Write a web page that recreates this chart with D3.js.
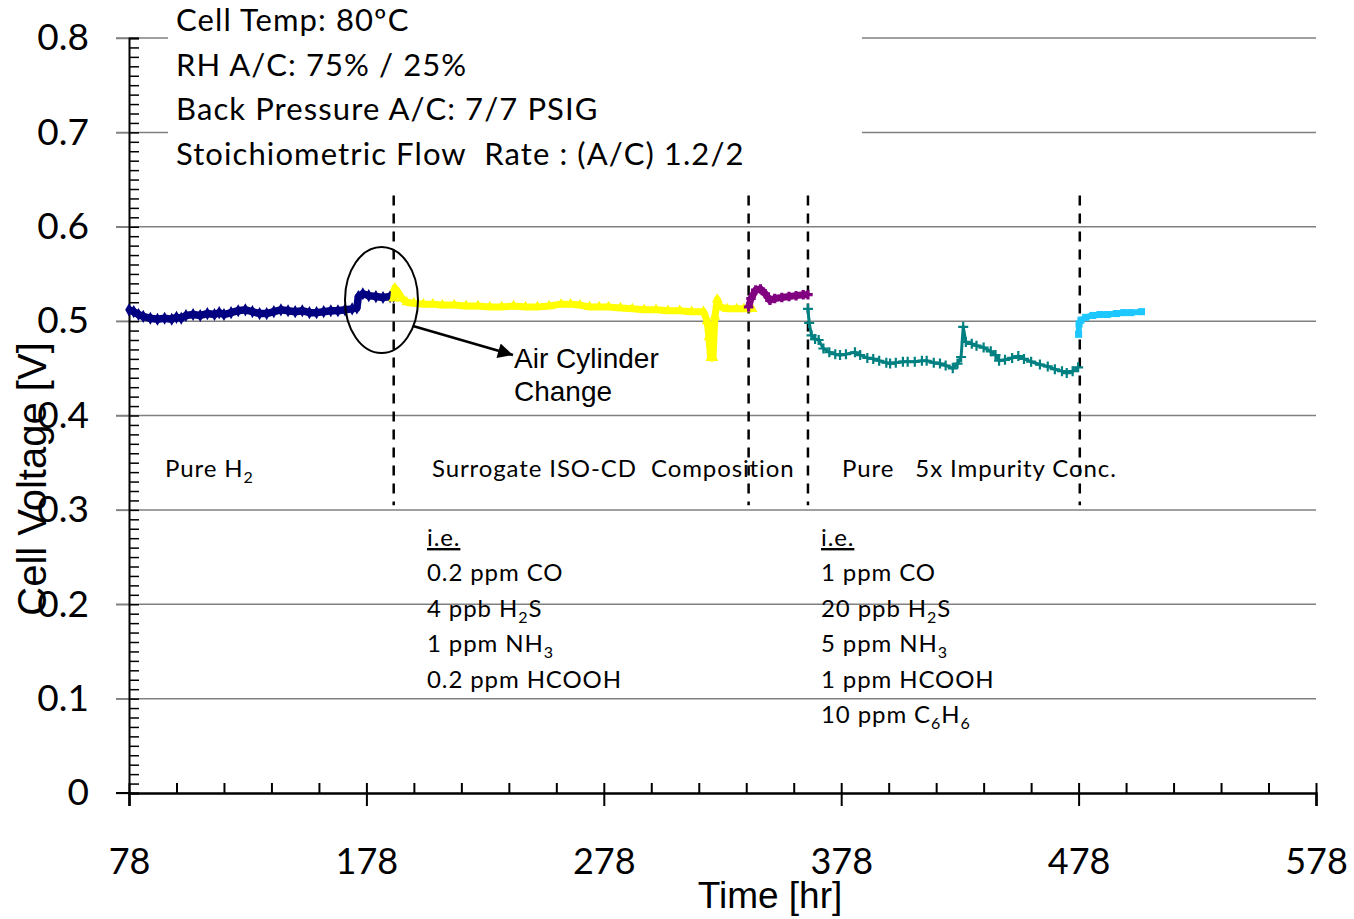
<!DOCTYPE html>
<html>
<head>
<meta charset="utf-8">
<script src="https://cdn.jsdelivr.net/npm/d3@7"></script>
<style>
  body { margin: 0; background: #fff; }
  svg { display: block; }
  text { white-space: pre; }
</style>
</head>
<body>
<div id="chart"></div>
<script>
// ---- data (hours, volts) ----
var pureH2 = [[78,0.512],[80,0.510],[82,0.507],[84,0.505],[87,0.503],[90,0.502],[93,0.503],[96,0.502],[98,0.504],[100,0.503],[102,0.506],[105,0.507],[108,0.506],[111,0.508],[114,0.507],[116,0.509],[118,0.507],[121,0.509],[124,0.511],[127,0.512],[130,0.510],[133,0.508],[136,0.508],[139,0.510],[142,0.512],[145,0.511],[148,0.510],[151,0.511],[154,0.509],[157,0.509],[160,0.510],[163,0.511],[166,0.511],[169,0.512],[172,0.513],[174,0.514],[174.6,0.526],[176.5,0.529],[179,0.527],[182,0.526],[185,0.525],[188,0.526],[189.5,0.526]];
var surrogate = [[189.5,0.524],[190,0.535],[191.5,0.530],[193,0.524],[195,0.520],[198,0.519],[202,0.518],[206,0.518],[210,0.517],[215,0.517],[220,0.516],[225,0.516],[230,0.515],[235,0.515],[240,0.516],[245,0.515],[250,0.515],[255,0.516],[260,0.518],[264,0.518],[268,0.517],[272,0.515],[276,0.515],[280,0.515],[285,0.514],[290,0.513],[295,0.512],[300,0.512],[305,0.511],[310,0.511],[315,0.510],[320,0.510],[321.5,0.500],[322.3,0.483],[323,0.461],[324,0.461],[324.8,0.505],[325.8,0.523],[327,0.515],[330,0.513],[334,0.513],[337,0.513],[340.5,0.513]];
var pureMid = [[339,0.515],[340,0.524],[342,0.533],[344,0.534],[346,0.529],[348,0.522],[350,0.524],[353,0.525],[356,0.526],[359,0.527],[362,0.528],[364,0.528]];
var impurity5x = [[364,0.513],[364.5,0.498],[365.5,0.485],[367,0.481],[368.5,0.480],[370.5,0.471],[373,0.467],[375.5,0.465],[377.5,0.464],[380,0.465],[383.8,0.467],[386,0.464],[389,0.461],[391.5,0.460],[394,0.458],[397,0.456],[398.6,0.455],[401,0.456],[404,0.457],[406,0.457],[409,0.457],[412,0.458],[414,0.458],[417,0.456],[419.6,0.455],[422,0.453],[425,0.450],[427,0.455],[428.5,0.462],[429.4,0.494],[430.5,0.478],[433,0.476],[435,0.474],[438,0.472],[441,0.468],[443,0.464],[444.5,0.458],[447,0.459],[450,0.461],[452.6,0.463],[455,0.460],[458,0.457],[461.7,0.454],[465,0.452],[468,0.449],[471,0.447],[473,0.445],[475.5,0.447],[477.8,0.451]];
var pureEnd = [[478,0.486],[478.2,0.497],[479,0.501],[481,0.504],[484,0.506],[487,0.507],[490,0.507],[494,0.508],[497,0.509],[500,0.509],[504.5,0.510]];

var phaseBreaks = [189.5, 339, 364, 478.5];
var xTicks = [78, 178, 278, 378, 478, 578];
var yTicks = [0, 0.1, 0.2, 0.3, 0.4, 0.5, 0.6, 0.7, 0.8];
var conditions = ["Cell Temp: 80\u00baC", "RH A/C: 75% / 25%", "Back Pressure A/C: 7/7 PSIG", "Stoichiometric Flow  Rate : (A/C) 1.2/2"];

var width = 1354, height = 919;
var calibri = "Lato, 'Open Sans', sans-serif";
var arial = "'Liberation Sans', Arial, sans-serif";

var svg = d3.select("#chart").append("svg")
  .attr("width", width).attr("height", height);

var x = d3.scaleLinear().domain([78, 578]).range([129, 1316]);
var y = d3.scaleLinear().domain([0, 0.8]).range([793, 38]);

// gridlines
svg.append("g")
  .selectAll("line").data(yTicks.slice(1)).join("line")
  .attr("x1", x(78) - 13).attr("x2", x(578))
  .attr("y1", d => y(d)).attr("y2", d => y(d))
  .attr("stroke", "#808080").attr("stroke-width", 1.5);

// y axis
var yAxis = svg.append("g").attr("transform", "translate(" + x(78) + ",0)");
yAxis.call(d3.axisLeft(y).tickValues(yTicks).tickSize(13).tickFormat(d => d === 0 ? "0" : d3.format(".1f")(d)))
  .call(g => g.select(".domain").remove())
  .call(g => g.selectAll("line").attr("stroke", "#808080").attr("stroke-width", 1.5))
  .call(g => g.selectAll("text").attr("font-family", calibri).attr("font-size", 37).attr("fill", "#000").attr("x", -40));
yAxis.append("g").call(d3.axisRight(y).tickValues(d3.range(0, 81).map(i => i / 100)).tickSize(10).tickFormat(""))
  .call(g => g.select(".domain").attr("stroke", "#000").attr("stroke-width", 2))
  .call(g => g.selectAll("line").attr("stroke", "#000").attr("stroke-width", 1.5));

// x axis
var xAxis = svg.append("g").attr("transform", "translate(0," + y(0) + ")");
xAxis.call(d3.axisTop(x).tickValues(d3.range(78, 579, 20)).tickSize(10).tickFormat(""))
  .call(g => g.select(".domain").remove())
  .call(g => g.selectAll("line").attr("stroke", "#000").attr("stroke-width", 2));
xAxis.append("g").call(d3.axisBottom(x).tickValues(xTicks).tickSize(13).tickPadding(42))
  .call(g => g.select(".domain").attr("stroke", "#000").attr("stroke-width", 2.5))
  .call(g => g.selectAll("line").attr("stroke", "#000").attr("stroke-width", 2))
  .call(g => g.selectAll("text").attr("font-family", calibri).attr("font-size", 36).attr("fill", "#000"));
xAxis.append("line").attr("x1", x(78) - 13).attr("x2", x(78)).attr("stroke", "#000").attr("stroke-width", 2);

// condition box (covers gridlines)
svg.append("rect").attr("x", 168).attr("y", 0).attr("width", 694).attr("height", 172).attr("fill", "#fff");
svg.append("g").selectAll("text").data(conditions).join("text")
  .attr("x", 176).attr("y", (d, i) => 31 + i * 44.5)
  .attr("font-family", calibri).attr("font-size", 31).attr("letter-spacing", 1.1).text(d => d);

// phase separators
svg.append("g").selectAll("line").data(phaseBreaks).join("line")
  .attr("x1", d => x(d)).attr("x2", d => x(d))
  .attr("y1", y(0.633)).attr("y2", y(0.305))
  .attr("stroke", "#000").attr("stroke-width", 2.5).attr("stroke-dasharray", "10,8");

// series
var line = d3.line().x(d => x(d[0])).y(d => y(d[1]));
var series = [
  {data: pureH2, color: "#000080", w: 7.5, sym: d3.symbolDiamond},
  {data: surrogate, color: "#FFFF00", w: 7, sym: d3.symbolTriangle},
  {data: pureMid, color: "#800080", w: 7, sym: d3.symbolCross},
  {data: impurity5x, color: "#008080", w: 3, sym: null},
  {data: pureEnd, color: "#1EC8FF", w: 6, sym: d3.symbolSquare}
];
series.forEach(function(s) {
  svg.append("path").datum(s.data).attr("d", line)
    .attr("fill", "none").attr("stroke", s.color).attr("stroke-width", s.w)
    .attr("stroke-linejoin", "round");
  if (s.sym) {
    svg.append("g").selectAll("path").data(s.data).join("path")
      .attr("transform", d => "translate(" + x(d[0]) + "," + y(d[1]) + ")")
      .attr("d", d3.symbol().type(s.sym).size(50)).attr("fill", s.color);
  } else {
    svg.append("g").selectAll("path").data(s.data).join("path")
      .attr("d", d => { var px = x(d[0]), py = y(d[1]); return "M" + (px - 5) + "," + py + "H" + (px + 5) + "M" + px + "," + (py - 5) + "V" + (py + 5); })
      .attr("stroke", s.color).attr("stroke-width", 2.2);
  }
});

// air cylinder annotation
svg.append("ellipse").attr("cx", 381.5).attr("cy", 300).attr("rx", 36.5).attr("ry", 53)
  .attr("fill", "none").attr("stroke", "#000").attr("stroke-width", 2);
svg.append("defs").append("marker").attr("id", "arr").attr("viewBox", "0 0 10 10")
  .attr("refX", 10).attr("refY", 5).attr("markerWidth", 7).attr("markerHeight", 6)
  .attr("markerUnits", "strokeWidth").attr("orient", "auto")
  .append("path").attr("d", "M0,0L10,5L0,10z").attr("fill", "#000");
svg.append("line").attr("x1", 413).attr("y1", 326).attr("x2", 513).attr("y2", 355)
  .attr("stroke", "#000").attr("stroke-width", 2.5).attr("marker-end", "url(#arr)");
svg.append("text").attr("font-family", arial).attr("font-size", 28)
  .selectAll("tspan").data(["Air Cylinder", "Change"]).join("tspan")
  .attr("x", 514).attr("y", (d, i) => 368 + i * 33).text(d => d);

// phase labels, with subscripts
function rich(g, xp, yp, parts) {
  var t = g.append("text").attr("x", xp).attr("y", yp).attr("font-family", calibri)
    .attr("font-size", 24).attr("letter-spacing", 0.9);
  var low = false;
  parts.forEach(function(p) {
    if (typeof p === "string") {
      t.append("tspan").attr("dy", low ? -6 : 0).text(p);
      low = false;
    } else {
      t.append("tspan").attr("font-size", 16).attr("dy", low ? 0 : 6).text(p.sub);
      low = true;
    }
  });
  return t;
}
var labels = svg.append("g");
rich(labels, 165, 477, ["Pure H", {sub: "2"}]);
rich(labels, 432, 477, ["Surrogate ISO-CD  Composition"]);
rich(labels, 842, 477, ["Pure   5x Impurity Conc."]);

var leftList = [["0.2 ppm CO"], ["4 ppb H", {sub: "2"}, "S"], ["1 ppm NH", {sub: "3"}], ["0.2 ppm HCOOH"]];
var rightList = [["1 ppm CO"], ["20 ppb H", {sub: "2"}, "S"], ["5 ppm NH", {sub: "3"}], ["1 ppm HCOOH"], ["10 ppm C", {sub: "6"}, "H", {sub: "6"}]];
rich(labels, 427, 546, ["i.e."]).attr("text-decoration", "underline");
rich(labels, 821, 546, ["i.e."]).attr("text-decoration", "underline");
leftList.forEach((p, i) => rich(labels, 427, 581 + i * 35.5, p));
rightList.forEach((p, i) => rich(labels, 821, 581 + i * 35.5, p));

// axis titles
svg.append("text").attr("x", 770).attr("y", 908).attr("text-anchor", "middle")
  .attr("font-family", arial).attr("font-size", 37).text("Time [hr]");
svg.append("text").attr("transform", "translate(46,479) rotate(-90)").attr("text-anchor", "middle")
  .attr("font-family", arial).attr("font-size", 40).text("Cell Voltage [V]");
</script>
</body>
</html>
